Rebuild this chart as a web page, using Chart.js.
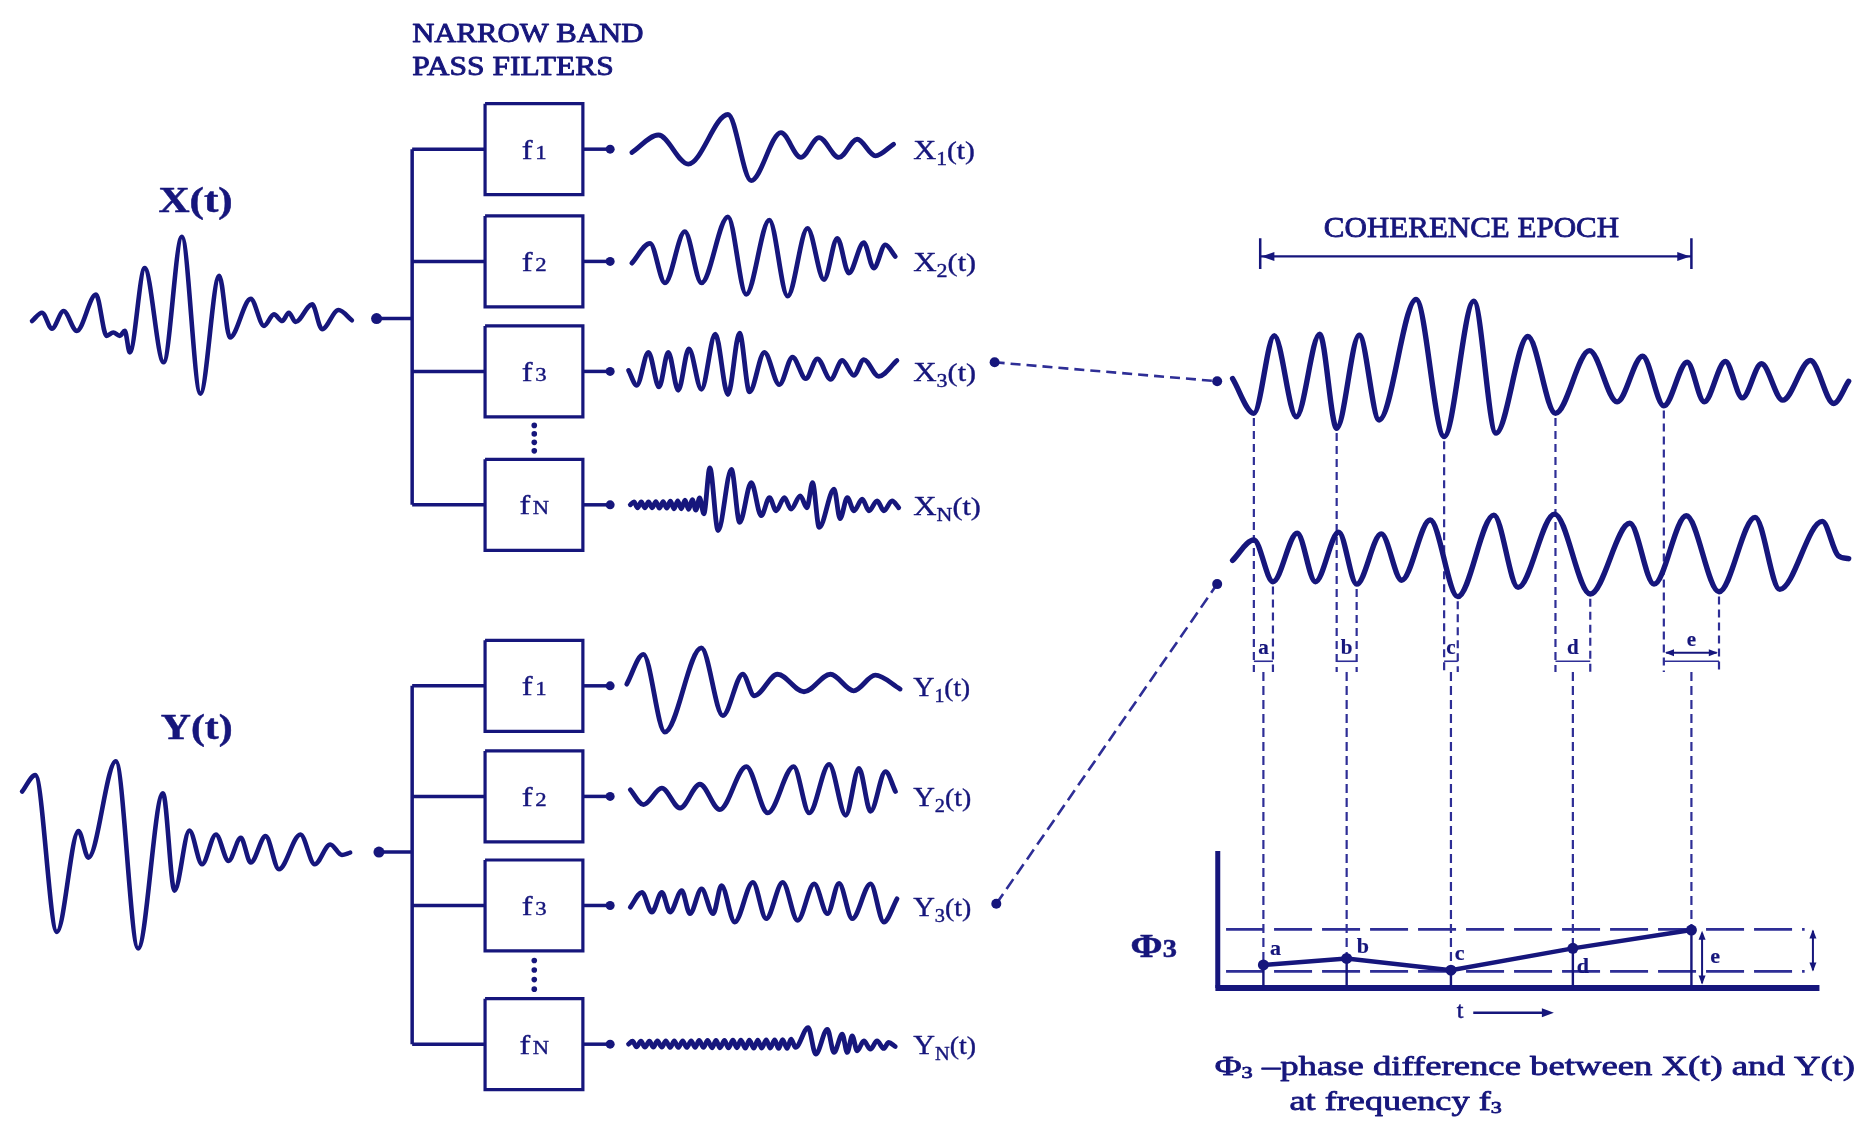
<!DOCTYPE html>
<html>
<head>
<meta charset="utf-8">
<script src="https://cdn.jsdelivr.net/npm/chart.js@4.4.0/dist/chart.umd.min.js"></script>
<style>
  html, body { margin: 0; padding: 0; background: #fff; }
  #wrap { width: 1870px; height: 1124px; }
</style>
</head>
<body>
<div id="wrap"><canvas id="c" width="1870" height="1124"></canvas></div>
<script>
// ---- signals: time / amplitude of each turning point ----
const xT = [0,10,20,31.7,45,64.3,75,81.7,88.3,93.3,98.3,113.3,132.3,150.7,169.3,188.3,199,220,233.3,243.3,251.7,258.3,265,281.7,291.7,308.3,321.7];
const xA = [0,8.3,-7.7,10,-10,26.7,-15,-11.7,-15,-10,-31.7,53.3,-41.7,85,-73.3,45.7,-16.7,22.3,-5,6.7,0,8.3,-1,16.7,-8.3,11,0.7];

const yT = [0,13.3,35,56.7,66.7,94.3,116.7,141.7,153.3,168.3,181,195,207.7,220,230,245,258.3,280,294.3,310,321.7,330];
const yA = [61.7,78.3,-80,21.7,-5,92.3,-96.7,60,-38.3,22.3,-11.7,18.3,-8.3,15,-10,16.7,-16.7,18.3,-11.7,8.3,-2.3,0];

const x1T = [0,26.7,56.7,96.7,120,150,170,188.3,208.3,226.7,245,263.3];
const x1A = [-3.3,14.3,-15,35,-31.7,16.7,-8.3,11.7,-8.3,10,-6.7,5];

const x2T = [0,18.3,33.3,53.3,70,96.7,115,138.3,156.7,176.7,193.3,206.7,218.3,233.3,243.3,255,265];
const x2A = [-1.7,18.3,-21.7,30,-21.7,45,-33.3,41.7,-35,33.3,-18.3,23.3,-11.7,19,-6.7,16.7,5];

const x3T = [0,8.3,20,30.7,40,50,60.7,73.3,87.3,100,111.7,121.7,136.7,151.7,165,178.3,190,203.3,215,226.7,236.7,251.7,270];
const x3A = [1,-14,19.3,-15.7,19.3,-19,22.7,-18,37.7,-23.3,38.7,-20.7,19.3,-13.3,14.3,-7.3,12.7,-8,11,-4,12,-5,11];

const xnT = [0,3.7,7.3,11,14.7,18.3,22,25.7,29.3,33,36.7,40.3,44,47.7,51.3,55,58.7,62.3,66,69.7,74,80,88.3,101.7,110,121.7,131.7,140,146.7,155,161.7,171,177.7,183.3,190,205,211,218.3,225,233.3,240,248.3,255,263.3,270];
const xnA = [0,3,-3,3,-3,3,-3,3.3,-3.3,3.3,-3.3,3.7,-4,4,-4,4.7,-4.7,5.3,-5.3,7,-9,37.3,-26,35.7,-17.7,22.3,-11,7.3,-6,7.3,-4.3,9,-3,22.3,-22.7,15.7,-14,7.3,-6,5.7,-6,4,-6,4,-3];

const y1T = [0,16.7,38.3,75,96.7,116.7,128.3,151.7,178.3,205,228.3,250,275];
const y1A = [1.7,31.7,-46.7,38.3,-30,11.7,-10,11.7,-6,11.7,-5,10.7,-3.3];

const y2T = [0,13.3,31.7,50,70,90,116.7,138.3,164.3,180,200,216.7,230,241.7,256.7,266.7];
const y2A = [6.7,-8.3,8.3,-11.7,12.3,-13.3,30,-16.7,30,-16.7,32.3,-19,28.3,-15,25,5];

const y3T = [0,11.7,21.7,31.7,40,51.7,60,71.7,83.3,91.7,105,123.3,136.7,153.3,168.3,185,198.3,210,223.3,241.7,255,268.3];
const y3A = [-1.7,13.3,-6.7,13.3,-6.7,15,-8.3,16.7,-8.3,20,-16.7,23.3,-13.3,23.3,-15,21.7,-8.3,22.3,-13.3,21.7,-16.7,6.7];

const ynT = [0,4,8,12.5,16.5,21,25,29,33.5,37.5,42,46,50,54.5,58.5,63,67,71,75.5,79.5,84,88,92,96.5,100.5,105,109,113,117.5,121.5,126,130,134,138.5,142.5,147,151,155,159.5,163.5,168,180.7,188.3,200,206.7,215,220,225,230,236.7,243.3,250,256.7,261.7,268.3];
const ynA = [0,3,-2.7,3,-3,3,-3,3.3,-3,3.3,-3.3,3.3,-3.3,3.3,-3.3,3.3,-3.3,3.7,-3.3,3.7,-3.7,3.7,-3.7,3.7,-3.7,4,-3.7,4,-4,4,-4,4,-4,4.3,-4,4.3,-4.3,4.7,-4.3,5,-3.3,16.7,-10,15,-8.3,10,-8.3,8.3,-6.7,3.3,-5,3.3,-4.3,1.7,-2.3];

// expanded X3(t) and Y3(t)
const bxT = [0,21.4,41.9,64.1,87.6,104.7,127.4,147.4,184.6,212.8,242.7,265,297,324.8,359,386.8,412.4,433.8,457.3,474.4,495.7,512.8,532,553.4,581.2,604.7,619.7];
const bxA = [2.7,-32.3,46,-35.7,47.7,-47.3,46.7,-39,82.7,-55.7,81,-52.3,45.3,-32.3,31,-20.7,25.3,-24.7,19.3,-20.7,20,-16.7,17.7,-19,21,-22.3,0];
const byT = [0,21.4,40.6,65,83.3,106.8,124.8,149.6,170.1,198.7,226.5,262.8,287.2,323.9,359.8,399.6,423.9,456.4,489.3,525.6,550.4,593.2,609,619.7];
const byA = [-1.7,19,-23.3,25.7,-23.3,26.7,-25.7,25,-21.7,39,-38.3,44,-29,45,-35.7,35.7,-25.7,43.3,-33.3,41.7,-31,37.7,3.3,0];

// phase measurement
const phaseLabels = ['a', 'b', 'c', 'd', 'e'];
const xTroughIdx = [1, 5, 9, 13, 17];
const yTroughIdx = [2, 6, 10, 14, 18];
const phaseVals = [19.5, 25, 15, 33.5, 49];
const phaseBand = [14, 49.5];

// ---- layout, in units of the 1568 x 942 drawing ----
const K = 1568 / 1870;
const NAVY = '#16167c';
const LIGHT = '#2e2e96';
const SERIF = '"Liberation Serif","DejaVu Serif",serif';
const f = px => px + 'px ' + SERIF;
const fb = px => 'bold ' + px + 'px ' + SERIF;

const BOX_L = 404.5, BOX_R = 487, BOX_H = 77, TREE_X = 343, OUT_DOT_X = 510, WAVE_X = 527;
const xRows = [121.6, 216.6, 309.7, 422.6];
const yRows = [575.8, 669.4, 761.7, 879.1];
const BIG_X0 = 1035, BIG_XBASE = 318.1, BIG_YBASE = 468.2;
const BRACKET_BOTTOM = 564;
const PH_X0 = 1022.5, PH_Y0 = 831.5, PH_TOP = 715.5, PH_X1 = 1530;

const datasets = [];
function addLine(pts, o) {
  datasets.push(Object.assign({
    type: 'line', data: pts, borderColor: NAVY, borderWidth: 3.5, pointRadius: 0,
    tension: 0, fill: false, clip: false, order: 2, borderCapStyle: 'butt'
  }, o || {}));
}
function wavePts(t, a, x0, y0) {
  return t.map((v, i) => ({ x: x0 + v * K, y: y0 - a[i] * K }));
}
function addWave(t, a, x0, y0, w) {
  addLine(wavePts(t, a, x0, y0), {
    borderWidth: w || 4.8, cubicInterpolationMode: 'monotone', tension: 0.4,
    borderCapStyle: 'round', borderJoinStyle: 'round', order: 1
  });
}
function addDots(pts, r) {
  datasets.push({
    type: 'line', data: pts, showLine: false, pointRadius: r, pointBackgroundColor: NAVY,
    pointBorderColor: NAVY, pointBorderWidth: 0, clip: false, order: 0
  });
}
function dashed(pts, w, dash) {
  addLine(pts, { borderColor: LIGHT, borderWidth: w || 2.2, borderDash: dash || [8, 5], order: 3 });
}

// filter banks
function filterBank(inX, inY, rows) {
  addLine([{ x: inX, y: inY }, { x: TREE_X, y: inY }]);
  addLine([{ x: TREE_X, y: rows[0] }, { x: TREE_X, y: rows[rows.length - 1] }]);
  rows.forEach(r => {
    addLine([{ x: TREE_X, y: r }, { x: BOX_L, y: r }]);
    addLine([{ x: BOX_L, y: r - BOX_H / 2 }, { x: BOX_R, y: r - BOX_H / 2 }, { x: BOX_R, y: r + BOX_H / 2 },
             { x: BOX_L, y: r + BOX_H / 2 }, { x: BOX_L, y: r - BOX_H / 2 }], { borderJoinStyle: 'miter', borderWidth: 3.2 });
    addLine([{ x: BOX_R, y: r }, { x: OUT_DOT_X, y: r }]);
  });
  addDots(rows.map(r => ({ x: OUT_DOT_X, y: r })), 4.5);
  addDots([{ x: inX, y: inY }], 5.5);
  const top = rows[2] + BOX_H / 2, bot = rows[3] - BOX_H / 2, dots = [];
  for (let k = 1; k <= 4; k++) dots.push({ x: 446, y: top + (bot - top) * k / 5 });
  addDots(dots, 2.8);
}
filterBank(313, 265, xRows);
filterBank(315, 716.5, yRows);

addWave(xT, xA, 22.4, 267, 4.6);
addWave(yT, yA, 14, 717, 4.6);
addWave(x1T, x1A, WAVE_X + 1.3, xRows[0]);
addWave(x2T, x2A, WAVE_X + 1.3, xRows[1]);
addWave(x3T, x3A, WAVE_X - 1.5, xRows[2]);
addWave(xnT, xnA, WAVE_X, xRows[3]);
addWave(y1T, y1A, WAVE_X - 3, yRows[0]);
addWave(y2T, y2A, WAVE_X, yRows[1]);
addWave(y3T, y3A, WAVE_X, yRows[2]);
addWave(ynT, ynA, WAVE_X - 1.5, yRows[3]);

// expanded waves and their links
const bigX = wavePts(bxT, bxA, BIG_X0, BIG_XBASE);
const bigY = wavePts(byT, byA, BIG_X0, BIG_YBASE);
addWave(bxT, bxA, BIG_X0, BIG_XBASE, 5.4);
addWave(byT, byA, BIG_X0, BIG_YBASE, 5.4);
dashed([{ x: 834.3, y: 302 }, { x: 1022, y: 318 }], 2.6, [10, 6]);
dashed([{ x: 835.7, y: 760.3 }, { x: 1022, y: 489.7 }], 2.6, [12, 6]);
addDots([{ x: 834.3, y: 302 }, { x: 835.7, y: 760.3 }, { x: 1022, y: 318 }, { x: 1022, y: 489.7 }], 5);

// coherence epoch arrow
addLine([{ x: 1058.3, y: 212.4 }, { x: 1422, y: 212.4 }], { borderWidth: 2.2 });
addLine([{ x: 1058.3, y: 197 }, { x: 1058.3, y: 223 }], { borderWidth: 2.5 });
addLine([{ x: 1422, y: 197 }, { x: 1422, y: 223 }], { borderWidth: 2.5 });

// brackets a..e and the phase plot
const phasePts = [];
phaseLabels.forEach((lab, i) => {
  const p = bigX[xTroughIdx[i]], q = bigY[yTroughIdx[i]];
  dashed([{ x: p.x, y: p.y + 4 }, { x: p.x, y: BRACKET_BOTTOM }]);
  dashed([{ x: q.x, y: q.y + 4 }, { x: q.x, y: BRACKET_BOTTOM }]);
  addLine([{ x: p.x, y: 555 }, { x: q.x, y: 555 }], { borderWidth: 1.6, borderColor: LIGHT });
  const m = (p.x + q.x) / 2, v = PH_Y0 - phaseVals[i];
  phasePts.push({ x: m, y: v });
  dashed([{ x: m, y: BRACKET_BOTTOM }, { x: m, y: v }], 2.2, [9, 5]);
  addLine([{ x: m, y: v }, { x: m, y: PH_Y0 }], { borderWidth: 2.4 });
});
const eL = bigX[xTroughIdx[4]].x, eR = bigY[yTroughIdx[4]].x;
addLine([{ x: eL + 2, y: 547.8 }, { x: eR - 2, y: 547.8 }], { borderWidth: 1.8 });

addLine([{ x: PH_X0, y: PH_TOP }, { x: PH_X0, y: PH_Y0 }], { borderWidth: 5 });
addLine([{ x: PH_X0 - 2, y: PH_Y0 }, { x: PH_X1, y: PH_Y0 }], { borderWidth: 6 });
phaseBand.forEach(b => dashed([{ x: 1029.5, y: PH_Y0 - b }, { x: 1517.5, y: PH_Y0 - b }], 2.8, [38, 10]));
addLine(phasePts, { borderWidth: 4.5, order: 1 });
addDots(phasePts, 5.5);
addLine([{ x: 1431, y: PH_Y0 - phaseBand[1] + 3 }, { x: 1431, y: PH_Y0 - 4 }], { borderWidth: 2 });
addLine([{ x: 1524.5, y: PH_Y0 - phaseBand[1] + 1 }, { x: 1524.5, y: PH_Y0 - phaseBand[0] - 1 }], { borderWidth: 2 });
addLine([{ x: 1238, y: 852.5 }, { x: 1300, y: 852.5 }], { borderWidth: 2.6 });

// ---- text and arrow heads ----
const diagramText = {
  id: 'diagramText',
  afterDatasetsDraw(chart) {
    const ctx = chart.ctx, sx = chart.scales.x, sy = chart.scales.y;
    const X = v => sx.getPixelForValue(v), Y = v => sy.getPixelForValue(v);

    // scanned lettering is a little heavier than the plain font, so add a thin outline
    function T(parts, x, y, w, center, weight) {
      ctx.save();
      ctx.fillStyle = NAVY;
      ctx.strokeStyle = NAVY;
      ctx.lineWidth = weight === undefined ? 0.5 : weight;
      ctx.lineJoin = 'round';
      ctx.textBaseline = 'alphabetic';
      let total = 0;
      parts.forEach(p => { ctx.font = p[1]; total += ctx.measureText(p[0]).width; });
      const pw = w ? X(w) - X(0) : total;
      const s = pw / total;
      const left = center ? X(x) - pw / 2 : X(x);
      ctx.translate(left, Y(y));
      ctx.scale(s, 1);
      let cx = 0;
      parts.forEach(p => {
        ctx.font = p[1];
        ctx.fillText(p[0], cx, p[2] || 0);
        if (ctx.lineWidth > 0) ctx.strokeText(p[0], cx, p[2] || 0);
        cx += ctx.measureText(p[0]).width;
      });
      ctx.restore();
    }
    function head(x, y, dx, dy, len, half) {
      const px = X(x), py = Y(y);
      ctx.save();
      ctx.fillStyle = NAVY;
      ctx.beginPath();
      ctx.moveTo(px, py);
      ctx.lineTo(px - dx * len - dy * half, py - dy * len + dx * half);
      ctx.lineTo(px - dx * len + dy * half, py - dy * len - dx * half);
      ctx.closePath();
      ctx.fill();
      ctx.restore();
    }

    T([['NARROW BAND', f(28)]], 343, 31, 195, false, 0.9);
    T([['PASS FILTERS', f(28)]], 343, 59, 170, false, 0.9);
    T([['X(t)', fb(35)]], 129, 174.5, 62.6, false, 0.5);
    T([['Y(t)', fb(35)]], 131, 620.5, 60.6, false, 0.5);

    const subs = ['1', '2', '3', 'N'];
    [xRows, yRows].forEach((rows, g) => {
      rows.forEach((r, i) => {
        T([['f', f(27)], [' ', f(9)], [subs[i], f(19)]], 446, r + 8, i === 3 ? 25 : 21, true, 0.4);
        const name = g === 0 ? 'X' : 'Y';
        const w = (g === 0 ? [52, 53, 53, 57] : [48, 49, 49, 53])[i];
        T([[name, f(28)], [subs[i], f(19), 6], ['(t)', f(26)]], 765.6, r + 8.5, w, false, 0.4);
      });
    });

    T([['COHERENCE EPOCH', f(30)]], 1112, 195.6, 249, false, 0.8);
    head(1058.3 + 1, 212.4, -1, 0, 13, 4.5);
    head(1422 - 1, 212.4, 1, 0, 13, 4.5);

    phaseLabels.forEach((lab, i) => {
      const p = bigX[xTroughIdx[i]], q = bigY[yTroughIdx[i]];
      T([[lab, fb(21)]], (p.x + q.x) / 2, i === 4 ? 542.5 : 548.5, null, true, 0.2);
    });
    head(eL + 1, 547.8, -1, 0, 9, 3.5);
    head(eR - 1, 547.8, 1, 0, 9, 3.5);

    const phLab = [[1066.5, 804], [1139.8, 802], [1222.3, 807.6], [1325.3, 819], [1438, 810.6]];
    phaseLabels.forEach((lab, i) => T([[lab, fb(22)]], phLab[i][0], phLab[i][1], null, false, 0.2));
    head(1431, PH_Y0 - phaseBand[1] + 1, 0, -1, 9, 3.5);
    head(1431, PH_Y0 - 3, 0, 1, 9, 3.5);
    head(1524.5, PH_Y0 - phaseBand[1], 0, -1, 9, 3.5);
    head(1524.5, PH_Y0 - phaseBand[0], 0, 1, 9, 3.5);

    T([['Φ', fb(34)], ['3', fb(25)]], 949, 805, 39, false, 0.5);
    T([['t', f(24)]], 1224, 857);
    head(1306, 852.5, 1, 0, 12, 4.5);

    T([['Φ', f(28)], ['3', f(17), 3], [' –phase difference between X(t) and Y(t)', f(28)]], 1020, 905.6, 540, false, 0.8);
    T([['at frequency f', f(28)], ['3', f(17), 3]], 1083, 935, 179, false, 0.8);
  }
};

new Chart(document.getElementById('c'), {
  type: 'line',
  data: { datasets: datasets },
  options: {
    responsive: false,
    animation: false,
    devicePixelRatio: 1,
    events: [],
    layout: { padding: 0 },
    plugins: { legend: { display: false }, tooltip: { enabled: false } },
    scales: {
      x: { type: 'linear', min: 0, max: 1568, display: false },
      y: { type: 'linear', min: 0, max: 942, reverse: true, display: false }
    }
  },
  plugins: [diagramText]
});
</script>
</body>
</html>
